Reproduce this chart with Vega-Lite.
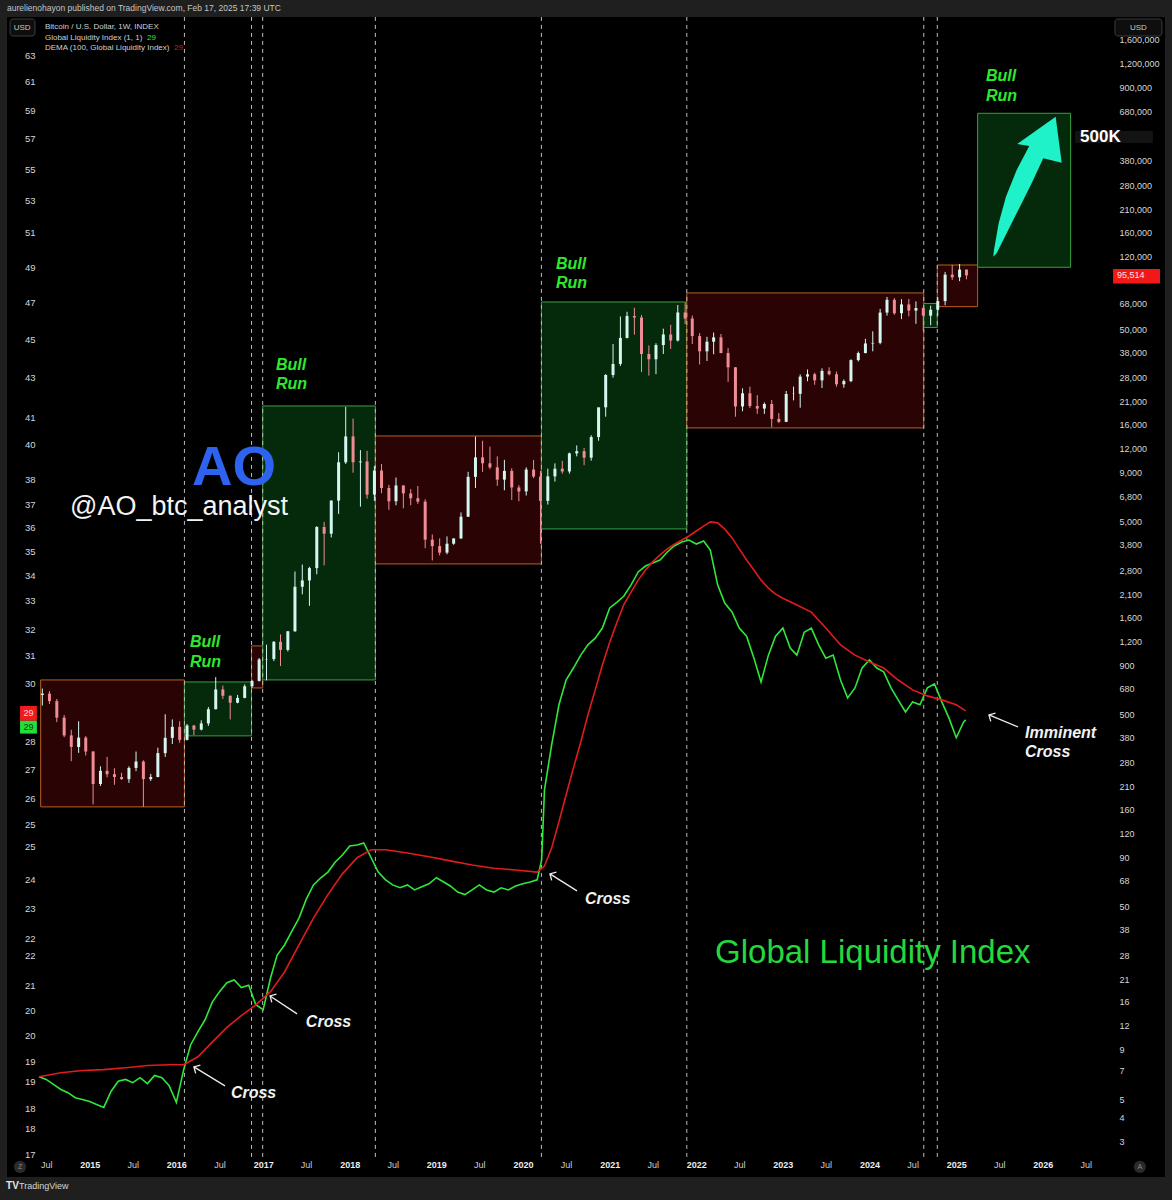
{
"$schema": "https://vega.github.io/schema/vega-lite/v6.json",
"width": 1158,
"height": 1160,
"autosize": {"type": "none"},
"padding": {"left": 7, "top": 17, "right": 7, "bottom": 23},
"background": "#1f1f1f",
"title": {"text": "aurelienohayon published on TradingView.com, Feb 17, 2025 17:39 UTC", "anchor": "start", "frame": "group", "offset": 4, "fontSize": 8.5, "fontWeight": "normal", "color": "#c4c4c4", "font": "Liberation Sans"},
"config": {
  "view": {"fill": "#000000", "stroke": null},
  "font": "Liberation Sans",
  "axis": {"grid": false, "domain": false, "ticks": false, "labelColor": "#d6d6d6", "labelFont": "Liberation Sans", "labelFontSize": 9, "labelOverlap": false, "labelBound": false, "labelFlush": false}
},
"datasets": {
  "candles": [
    {"d":"2014-06-15","o":630,"h":680,"l":555,"c":640},
    {"d":"2014-07-15","o":640,"h":660,"l":565,"c":585},
    {"d":"2014-08-15","o":585,"h":600,"l":455,"c":480},
    {"d":"2014-09-15","o":480,"h":495,"l":380,"c":388},
    {"d":"2014-10-15","o":388,"h":415,"l":285,"c":338},
    {"d":"2014-11-15","o":338,"h":460,"l":315,"c":378},
    {"d":"2014-12-15","o":378,"h":385,"l":305,"c":320},
    {"d":"2015-01-15","o":320,"h":322,"l":170,"c":217},
    {"d":"2015-02-15","o":217,"h":268,"l":212,"c":254},
    {"d":"2015-03-15","o":254,"h":300,"l":235,"c":244},
    {"d":"2015-04-15","o":244,"h":262,"l":215,"c":236},
    {"d":"2015-05-15","o":236,"h":248,"l":228,"c":230},
    {"d":"2015-06-15","o":230,"h":268,"l":220,"c":263},
    {"d":"2015-07-15","o":263,"h":320,"l":253,"c":284},
    {"d":"2015-08-15","o":284,"h":288,"l":165,"c":230},
    {"d":"2015-09-15","o":230,"h":245,"l":225,"c":236},
    {"d":"2015-10-15","o":236,"h":335,"l":235,"c":314},
    {"d":"2015-11-15","o":314,"h":500,"l":300,"c":377},
    {"d":"2015-12-15","o":377,"h":470,"l":350,"c":430},
    {"d":"2016-01-15","o":430,"h":460,"l":355,"c":368},
    {"d":"2016-02-15","o":368,"h":445,"l":365,"c":437},
    {"d":"2016-03-15","o":437,"h":440,"l":390,"c":416},
    {"d":"2016-04-15","o":416,"h":465,"l":412,"c":448},
    {"d":"2016-05-15","o":448,"h":545,"l":435,"c":531},
    {"d":"2016-06-15","o":531,"h":780,"l":530,"c":673},
    {"d":"2016-07-15","o":673,"h":705,"l":600,"c":624},
    {"d":"2016-08-15","o":624,"h":625,"l":470,"c":574},
    {"d":"2016-09-15","o":574,"h":630,"l":570,"c":608},
    {"d":"2016-10-15","o":608,"h":715,"l":605,"c":699},
    {"d":"2016-11-15","o":699,"h":755,"l":685,"c":745},
    {"d":"2016-12-15","o":745,"h":980,"l":740,"c":964},
    {"d":"2017-01-15","o":964,"h":1150,"l":750,"c":968},
    {"d":"2017-02-15","o":968,"h":1200,"l":945,"c":1190},
    {"d":"2017-03-15","o":1190,"h":1300,"l":890,"c":1080},
    {"d":"2017-04-15","o":1080,"h":1350,"l":1060,"c":1350},
    {"d":"2017-05-15","o":1350,"h":2760,"l":1340,"c":2300},
    {"d":"2017-06-15","o":2300,"h":3000,"l":2100,"c":2480},
    {"d":"2017-07-15","o":2480,"h":2920,"l":1830,"c":2875},
    {"d":"2017-08-15","o":2875,"h":4750,"l":2670,"c":4700},
    {"d":"2017-09-15","o":4700,"h":5000,"l":2970,"c":4340},
    {"d":"2017-10-15","o":4340,"h":6470,"l":4150,"c":6450},
    {"d":"2017-11-15","o":6450,"h":11500,"l":5500,"c":10200},
    {"d":"2017-12-15","o":10200,"h":19800,"l":10000,"c":13900},
    {"d":"2018-01-15","o":13900,"h":17200,"l":9000,"c":10200},
    {"d":"2018-02-15","o":10200,"h":11800,"l":6000,"c":10300},
    {"d":"2018-03-15","o":10300,"h":11700,"l":6600,"c":6930},
    {"d":"2018-04-15","o":6930,"h":9750,"l":6430,"c":9240},
    {"d":"2018-05-15","o":9240,"h":9990,"l":7050,"c":7500},
    {"d":"2018-06-15","o":7500,"h":7780,"l":5770,"c":6400},
    {"d":"2018-07-15","o":6400,"h":8500,"l":6100,"c":7730},
    {"d":"2018-08-15","o":7730,"h":7750,"l":5880,"c":7030},
    {"d":"2018-09-15","o":7030,"h":7400,"l":6100,"c":6630},
    {"d":"2018-10-15","o":6630,"h":7680,"l":6200,"c":6370},
    {"d":"2018-11-15","o":6370,"h":6550,"l":3650,"c":4040},
    {"d":"2018-12-15","o":4040,"h":4300,"l":3150,"c":3740},
    {"d":"2019-01-15","o":3740,"h":4100,"l":3350,"c":3460},
    {"d":"2019-02-15","o":3460,"h":4200,"l":3390,"c":3850},
    {"d":"2019-03-15","o":3850,"h":4100,"l":3800,"c":4100},
    {"d":"2019-04-15","o":4100,"h":5600,"l":4080,"c":5320},
    {"d":"2019-05-15","o":5320,"h":9100,"l":5300,"c":8570},
    {"d":"2019-06-15","o":8570,"h":13880,"l":7500,"c":10820},
    {"d":"2019-07-15","o":10820,"h":13200,"l":9100,"c":10080},
    {"d":"2019-08-15","o":10080,"h":12300,"l":9400,"c":9600},
    {"d":"2019-09-15","o":9600,"h":10950,"l":7700,"c":8290},
    {"d":"2019-10-15","o":8290,"h":10500,"l":7300,"c":9200},
    {"d":"2019-11-15","o":9200,"h":9500,"l":6500,"c":7550},
    {"d":"2019-12-15","o":7550,"h":7750,"l":6400,"c":7200},
    {"d":"2020-01-15","o":7200,"h":9600,"l":6850,"c":9350},
    {"d":"2020-02-15","o":9350,"h":10500,"l":8450,"c":8600},
    {"d":"2020-03-15","o":8600,"h":9200,"l":3850,"c":6430},
    {"d":"2020-04-15","o":6430,"h":9450,"l":6150,"c":8620},
    {"d":"2020-05-15","o":8620,"h":10070,"l":8100,"c":9450},
    {"d":"2020-06-15","o":9450,"h":10380,"l":8900,"c":9140},
    {"d":"2020-07-15","o":9140,"h":11450,"l":8900,"c":11350},
    {"d":"2020-08-15","o":11350,"h":12480,"l":10950,"c":11650},
    {"d":"2020-09-15","o":11650,"h":12100,"l":9850,"c":10780},
    {"d":"2020-10-15","o":10780,"h":14100,"l":10400,"c":13800},
    {"d":"2020-11-15","o":13800,"h":19500,"l":13200,"c":19700},
    {"d":"2020-12-15","o":19700,"h":29300,"l":17600,"c":29000},
    {"d":"2021-01-15","o":29000,"h":42000,"l":28100,"c":33100},
    {"d":"2021-02-15","o":33100,"h":58400,"l":32300,"c":45200},
    {"d":"2021-03-15","o":45200,"h":61800,"l":44900,"c":58800},
    {"d":"2021-04-15","o":58800,"h":64900,"l":47000,"c":57700},
    {"d":"2021-05-15","o":57700,"h":59500,"l":30000,"c":37300},
    {"d":"2021-06-15","o":37300,"h":41300,"l":28800,"c":35000},
    {"d":"2021-07-15","o":35000,"h":42400,"l":29300,"c":41500},
    {"d":"2021-08-15","o":41500,"h":50500,"l":37300,"c":47100},
    {"d":"2021-09-15","o":47100,"h":52900,"l":39600,"c":43800},
    {"d":"2021-10-15","o":43800,"h":67000,"l":43300,"c":61300},
    {"d":"2021-11-15","o":61300,"h":69000,"l":53300,"c":57000},
    {"d":"2021-12-15","o":57000,"h":59100,"l":42000,"c":46200},
    {"d":"2022-01-15","o":46200,"h":47900,"l":32900,"c":38500},
    {"d":"2022-02-15","o":38500,"h":45800,"l":34300,"c":43200},
    {"d":"2022-03-15","o":43200,"h":48200,"l":37200,"c":45500},
    {"d":"2022-04-15","o":45500,"h":47400,"l":37700,"c":37700},
    {"d":"2022-05-15","o":37700,"h":40000,"l":26700,"c":31800},
    {"d":"2022-06-15","o":31800,"h":31900,"l":17600,"c":19900},
    {"d":"2022-07-15","o":19900,"h":24700,"l":18800,"c":23300},
    {"d":"2022-08-15","o":23300,"h":25200,"l":19500,"c":20000},
    {"d":"2022-09-15","o":20000,"h":22800,"l":18200,"c":19400},
    {"d":"2022-10-15","o":19400,"h":20900,"l":18200,"c":20500},
    {"d":"2022-11-15","o":20500,"h":21500,"l":15500,"c":17150},
    {"d":"2022-12-15","o":17150,"h":18400,"l":16300,"c":16550},
    {"d":"2023-01-15","o":16550,"h":23950,"l":16500,"c":23100},
    {"d":"2023-02-15","o":23100,"h":25250,"l":21400,"c":23150},
    {"d":"2023-03-15","o":23150,"h":29200,"l":19600,"c":28450},
    {"d":"2023-04-15","o":28450,"h":31000,"l":26900,"c":29250},
    {"d":"2023-05-15","o":29250,"h":29800,"l":25800,"c":27200},
    {"d":"2023-06-15","o":27200,"h":31400,"l":24800,"c":30450},
    {"d":"2023-07-15","o":30450,"h":31800,"l":28900,"c":29250},
    {"d":"2023-08-15","o":29250,"h":30200,"l":25200,"c":25950},
    {"d":"2023-09-15","o":25950,"h":27500,"l":24900,"c":26950},
    {"d":"2023-10-15","o":26950,"h":35000,"l":26600,"c":34650},
    {"d":"2023-11-15","o":34650,"h":38400,"l":34100,"c":37700},
    {"d":"2023-12-15","o":37700,"h":44700,"l":37600,"c":42300},
    {"d":"2024-01-15","o":42300,"h":48900,"l":38500,"c":42600},
    {"d":"2024-02-15","o":42600,"h":64000,"l":41900,"c":61200},
    {"d":"2024-03-15","o":61200,"h":73800,"l":59000,"c":71300},
    {"d":"2024-04-15","o":71300,"h":72800,"l":59600,"c":60700},
    {"d":"2024-05-15","o":60700,"h":71900,"l":56600,"c":67500},
    {"d":"2024-06-15","o":67500,"h":72000,"l":58500,"c":62700},
    {"d":"2024-07-15","o":62700,"h":70000,"l":53500,"c":64600},
    {"d":"2024-08-15","o":64600,"h":65600,"l":49000,"c":59000},
    {"d":"2024-09-15","o":59000,"h":66500,"l":52600,"c":63300},
    {"d":"2024-10-15","o":63300,"h":73600,"l":58900,"c":70200},
    {"d":"2024-11-15","o":70200,"h":99600,"l":66800,"c":96400},
    {"d":"2024-12-15","o":96400,"h":108300,"l":90500,"c":93400},
    {"d":"2025-01-15","o":93400,"h":109600,"l":89200,"c":102400},
    {"d":"2025-02-13","o":102400,"h":102500,"l":91200,"c":95514}
  ],
  "gli": [
    {"d":"2014-06-01","g":18.66},{"d":"2014-07-01","g":18.60},{"d":"2014-08-01","g":18.49},{"d":"2014-09-01","g":18.38},
    {"d":"2014-10-01","g":18.31},{"d":"2014-11-01","g":18.20},{"d":"2014-12-01","g":18.16},{"d":"2015-01-01","g":18.12},
    {"d":"2015-02-01","g":18.05},{"d":"2015-03-01","g":17.99},{"d":"2015-04-01","g":18.34},{"d":"2015-05-01","g":18.56},
    {"d":"2015-06-01","g":18.60},{"d":"2015-07-01","g":18.53},{"d":"2015-08-01","g":18.64},{"d":"2015-09-01","g":18.51},
    {"d":"2015-10-01","g":18.69},{"d":"2015-11-01","g":18.64},{"d":"2015-12-01","g":18.47},{"d":"2016-01-01","g":18.10},
    {"d":"2016-02-01","g":18.82},{"d":"2016-03-01","g":19.38},{"d":"2016-04-01","g":19.69},{"d":"2016-05-01","g":19.97},
    {"d":"2016-06-01","g":20.40},{"d":"2016-07-01","g":20.65},{"d":"2016-08-01","g":20.87},{"d":"2016-09-01","g":20.94},
    {"d":"2016-10-01","g":20.75},{"d":"2016-11-01","g":20.81},{"d":"2016-12-01","g":20.33},{"d":"2017-01-01","g":20.21},
    {"d":"2017-02-01","g":20.99},{"d":"2017-03-01","g":21.57},{"d":"2017-04-01","g":21.83},{"d":"2017-05-01","g":22.18},
    {"d":"2017-06-01","g":22.54},{"d":"2017-07-01","g":23.04},{"d":"2017-08-01","g":23.45},{"d":"2017-09-01","g":23.65},
    {"d":"2017-10-01","g":23.81},{"d":"2017-11-01","g":24.10},{"d":"2017-12-01","g":24.30},{"d":"2018-01-01","g":24.56},
    {"d":"2018-02-01","g":24.59},{"d":"2018-03-01","g":24.65},{"d":"2018-04-01","g":24.22},{"d":"2018-05-01","g":23.81},
    {"d":"2018-06-01","g":23.59},{"d":"2018-07-01","g":23.45},{"d":"2018-08-01","g":23.37},{"d":"2018-09-01","g":23.45},
    {"d":"2018-10-01","g":23.31},{"d":"2018-11-01","g":23.40},{"d":"2018-12-01","g":23.48},{"d":"2019-01-01","g":23.65},
    {"d":"2019-02-01","g":23.53},{"d":"2019-03-01","g":23.42},{"d":"2019-04-01","g":23.25},{"d":"2019-05-01","g":23.18},
    {"d":"2019-06-01","g":23.31},{"d":"2019-07-01","g":23.45},{"d":"2019-08-01","g":23.31},{"d":"2019-09-01","g":23.25},
    {"d":"2019-10-01","g":23.37},{"d":"2019-11-01","g":23.31},{"d":"2019-12-01","g":23.42},{"d":"2020-01-01","g":23.48},
    {"d":"2020-02-01","g":23.53},{"d":"2020-03-01","g":23.59},{"d":"2020-03-20","g":24.16},{"d":"2020-04-01","g":26.26},
    {"d":"2020-05-01","g":27.70},{"d":"2020-06-01","g":29.06},{"d":"2020-07-01","g":29.93},{"d":"2020-08-01","g":30.36},
    {"d":"2020-09-01","g":30.83},{"d":"2020-10-01","g":31.21},{"d":"2020-11-01","g":31.46},{"d":"2020-12-01","g":31.84},
    {"d":"2021-01-01","g":32.61},{"d":"2021-02-01","g":32.84},{"d":"2021-03-01","g":33.07},{"d":"2021-04-01","g":33.52},
    {"d":"2021-05-01","g":34.04},{"d":"2021-06-01","g":34.28},{"d":"2021-07-01","g":34.41},{"d":"2021-08-01","g":34.53},
    {"d":"2021-09-01","g":34.86},{"d":"2021-10-01","g":35.12},{"d":"2021-11-01","g":35.28},{"d":"2021-12-01","g":35.36},
    {"d":"2022-01-01","g":35.19},{"d":"2022-02-01","g":35.32},{"d":"2022-03-01","g":34.94},{"d":"2022-04-01","g":33.52},
    {"d":"2022-05-01","g":32.80},{"d":"2022-06-01","g":32.45},{"d":"2022-07-01","g":31.84},{"d":"2022-08-01","g":31.53},
    {"d":"2022-09-01","g":30.72},{"d":"2022-10-01","g":29.86},{"d":"2022-11-01","g":30.83},{"d":"2022-12-01","g":31.53},
    {"d":"2023-01-01","g":31.84},{"d":"2023-02-01","g":31.09},{"d":"2023-03-01","g":30.83},{"d":"2023-04-01","g":31.68},
    {"d":"2023-05-01","g":31.84},{"d":"2023-06-01","g":31.21},{"d":"2023-07-01","g":30.72},{"d":"2023-08-01","g":30.83},
    {"d":"2023-09-01","g":29.93},{"d":"2023-10-01","g":29.30},{"d":"2023-11-01","g":29.65},{"d":"2023-12-01","g":30.36},
    {"d":"2024-01-01","g":30.65},{"d":"2024-02-01","g":30.36},{"d":"2024-03-01","g":30.22},{"d":"2024-04-01","g":29.65},
    {"d":"2024-05-01","g":29.23},{"d":"2024-06-01","g":28.81},{"d":"2024-07-01","g":29.16},{"d":"2024-08-01","g":29.06},
    {"d":"2024-09-01","g":29.65},{"d":"2024-10-01","g":29.79},{"d":"2024-11-01","g":29.16},{"d":"2024-12-01","g":28.61},
    {"d":"2025-01-01","g":27.94},{"d":"2025-02-01","g":28.47},{"d":"2025-02-10","g":28.54}
  ],
  "dema": [
    {"d":"2014-06-01","v":18.66},{"d":"2014-09-01","v":18.75},{"d":"2014-12-01","v":18.80},{"d":"2015-03-01","v":18.82},
    {"d":"2015-06-01","v":18.86},{"d":"2015-09-01","v":18.91},{"d":"2015-12-01","v":18.93},{"d":"2016-02-01","v":18.93},
    {"d":"2016-04-01","v":19.11},{"d":"2016-06-01","v":19.45},{"d":"2016-08-01","v":19.79},{"d":"2016-10-01","v":20.07},
    {"d":"2016-12-01","v":20.33},{"d":"2017-02-01","v":20.65},{"d":"2017-04-01","v":21.14},{"d":"2017-06-01","v":21.83},
    {"d":"2017-08-01","v":22.54},{"d":"2017-10-01","v":23.18},{"d":"2017-12-01","v":23.76},{"d":"2018-02-01","v":24.22},
    {"d":"2018-04-01","v":24.45},{"d":"2018-06-01","v":24.45},{"d":"2018-09-01","v":24.36},{"d":"2018-12-01","v":24.25},
    {"d":"2019-03-01","v":24.13},{"d":"2019-06-01","v":24.01},{"d":"2019-09-01","v":23.92},{"d":"2019-12-01","v":23.87},
    {"d":"2020-03-01","v":23.81},{"d":"2020-04-01","v":23.98},{"d":"2020-05-01","v":24.50},{"d":"2020-06-01","v":25.28},
    {"d":"2020-07-01","v":26.10},{"d":"2020-08-01","v":26.95},{"d":"2020-09-01","v":27.80},{"d":"2020-10-01","v":28.71},
    {"d":"2020-11-01","v":29.58},{"d":"2020-12-01","v":30.47},{"d":"2021-01-01","v":31.31},{"d":"2021-02-01","v":32.07},
    {"d":"2021-03-01","v":32.73},{"d":"2021-04-01","v":33.23},{"d":"2021-05-01","v":33.71},{"d":"2021-06-01","v":34.12},
    {"d":"2021-07-01","v":34.45},{"d":"2021-08-01","v":34.74},{"d":"2021-09-01","v":34.99},{"d":"2021-10-01","v":35.19},
    {"d":"2021-11-01","v":35.36},{"d":"2021-12-01","v":35.53},{"d":"2022-01-01","v":35.74},{"d":"2022-02-01","v":35.95},
    {"d":"2022-03-01","v":36.13},{"d":"2022-04-01","v":36.09},{"d":"2022-05-01","v":35.82},{"d":"2022-06-01","v":35.45},
    {"d":"2022-07-01","v":34.99},{"d":"2022-08-01","v":34.53},{"d":"2022-09-01","v":34.12},{"d":"2022-10-01","v":33.71},
    {"d":"2022-11-01","v":33.39},{"d":"2022-12-01","v":33.15},{"d":"2023-01-01","v":32.99},{"d":"2023-03-01","v":32.73},
    {"d":"2023-05-01","v":32.45},{"d":"2023-07-01","v":31.84},{"d":"2023-09-01","v":31.21},{"d":"2023-11-01","v":30.83},
    {"d":"2024-01-01","v":30.58},{"d":"2024-03-01","v":30.36},{"d":"2024-05-01","v":29.93},{"d":"2024-07-01","v":29.58},
    {"d":"2024-09-01","v":29.37},{"d":"2024-11-01","v":29.23},{"d":"2025-01-01","v":29.06},{"d":"2025-02-10","v":28.85}
  ],
  "boxes": [
    {"d":"2014-06-08","d2":"2016-02-04","top":754,"bottom":165,"kind":"bear"},
    {"d":"2016-02-04","d2":"2016-11-13","top":736,"bottom":386,"kind":"bull"},
    {"d":"2016-11-13","d2":"2016-12-30","top":1133,"bottom":685,"kind":"bear"},
    {"d":"2016-12-30","d2":"2018-04-19","top":20020,"bottom":754,"kind":"bull"},
    {"d":"2018-04-19","d2":"2020-03-19","top":13980,"bottom":3022,"kind":"bear"},
    {"d":"2020-03-19","d2":"2021-11-22","top":69500,"bottom":4595,"kind":"bull"},
    {"d":"2021-11-22","d2":"2024-08-17","top":77430,"bottom":15390,"kind":"bear"},
    {"d":"2024-08-17","d2":"2024-10-13","top":68270,"bottom":51230,"kind":"bull"},
    {"d":"2024-10-13","d2":"2025-04-01","top":108200,"bottom":65710,"kind":"bear"},
    {"d":"2025-04-01","d2":"2026-04-28","top":665000,"bottom":105300,"kind":"bull"}
  ],
  "vlines": [
    {"d":"2016-02-04"},{"d":"2016-11-13"},{"d":"2016-12-30"},{"d":"2018-04-19"},
    {"d":"2020-03-19"},{"d":"2021-11-22"},{"d":"2024-08-17"},{"d":"2024-10-13"}
  ],
  "arrows": [
    {"d":"2016-03-15","p":7.342,"d2":"2016-07-24","p2":5.852},
    {"d":"2017-01-30","p":17.17,"d2":"2017-05-24","p2":13.85},
    {"d":"2020-04-24","p":73.96,"d2":"2020-08-16","p2":60.35},
    {"d":"2025-05-19","p":496.1,"d2":"2025-09-18","p2":429.7}
  ],
  "bullText": [
    {"d":"2016-02-27","p":1188,"t":"Bull"},{"d":"2016-02-27","p":935,"t":"Run"},
    {"d":"2017-02-24","p":32700,"t":"Bull"},{"d":"2017-02-24","p":26050,"t":"Run"},
    {"d":"2020-05-19","p":109500,"t":"Bull"},{"d":"2020-05-19","p":87260,"t":"Run"},
    {"d":"2025-05-06","p":1039000,"t":"Bull"},{"d":"2025-05-06","p":818000,"t":"Run"}
  ],
  "crossText": [
    {"d":"2016-08-18","p":5.38,"t":"Cross"},
    {"d":"2017-06-30","p":12.58,"t":"Cross"},
    {"d":"2020-09-19","p":54.84,"t":"Cross"},
    {"d":"2025-10-18","p":399.9,"t":"Imminent"},
    {"d":"2025-10-18","p":318.5,"t":"Cross"}
  ],
  "legendText": [
    {"d":"2014-06-26","p":1867000,"t":"Bitcoin / U.S. Dollar, 1W, INDEX"},
    {"d":"2014-06-26","p":1638000,"t":"Global Liquidity Index (1, 1)"},
    {"d":"2014-06-26","p":1453000,"t":"DEMA (100, Global Liquidity Index)"}
  ],
  "legendVal": [
    {"d":"2015-08-30","p":1638000,"t":"29","series":"gli"},
    {"d":"2015-12-22","p":1453000,"t":"29","series":"dema"}
  ],
  "usdBox": [
    {"d":"2014-01-30","d2":"2014-05-15","top":2055000,"bottom":1677000},
    {"d":"2026-11-01","d2":"2027-05-18","top":2055000,"bottom":1677000}
  ],
  "usdText": [
    {"d":"2014-03-22","p":1856000,"t":"USD"},
    {"d":"2027-02-08","p":1856000,"t":"USD"}
  ],
  "tags": [
    {"d":"2014-03-13","d2":"2014-05-23","top":29.02,"bottom":28.51,"series":"dema"},
    {"d":"2014-03-13","d2":"2014-05-23","top":28.51,"bottom":28.08,"series":"gli"}
  ],
  "tagText": [
    {"d":"2014-04-18","v":28.76,"t":"29","series":"dema"},
    {"d":"2014-04-18","v":28.30,"t":"29","series":"gli"}
  ]
},
"encoding": {
  "x": {"field": "d", "type": "temporal",
    "scale": {"type": "utc", "domain": [{"year": 2014, "month": 1, "date": 17, "utc": true}, {"year": 2027, "month": 5, "date": 31, "utc": true}], "padding": 0, "nice": false},
    "axis": {"orient": "bottom", "offset": -17, "labelPadding": 0, "title": null,
      "values": [
        {"year":2014,"month":7,"date":1,"utc":true},{"year":2015,"month":1,"date":1,"utc":true},
        {"year":2015,"month":7,"date":1,"utc":true},{"year":2016,"month":1,"date":1,"utc":true},
        {"year":2016,"month":7,"date":1,"utc":true},{"year":2017,"month":1,"date":1,"utc":true},
        {"year":2017,"month":7,"date":1,"utc":true},{"year":2018,"month":1,"date":1,"utc":true},
        {"year":2018,"month":7,"date":1,"utc":true},{"year":2019,"month":1,"date":1,"utc":true},
        {"year":2019,"month":7,"date":1,"utc":true},{"year":2020,"month":1,"date":1,"utc":true},
        {"year":2020,"month":7,"date":1,"utc":true},{"year":2021,"month":1,"date":1,"utc":true},
        {"year":2021,"month":7,"date":1,"utc":true},{"year":2022,"month":1,"date":1,"utc":true},
        {"year":2022,"month":7,"date":1,"utc":true},{"year":2023,"month":1,"date":1,"utc":true},
        {"year":2023,"month":7,"date":1,"utc":true},{"year":2024,"month":1,"date":1,"utc":true},
        {"year":2024,"month":7,"date":1,"utc":true},{"year":2025,"month":1,"date":1,"utc":true},
        {"year":2025,"month":7,"date":1,"utc":true},{"year":2026,"month":1,"date":1,"utc":true},
        {"year":2026,"month":7,"date":1,"utc":true}
      ],
      "labelExpr": "utcmonth(datum.value) == 0 ? utcFormat(datum.value, '%Y') : 'Jul'",
      "labelFontWeight": {"condition": {"test": "utcmonth(datum.value) == 0", "value": "bold"}, "value": "normal"},
      "labelColor": {"condition": {"test": "utcmonth(datum.value) == 0", "value": "#ececec"}, "value": "#cfcfcf"}
    }
  }
},
"layer": [
  {
    "data": {"name": "boxes"},
    "mark": {"type": "rect", "strokeWidth": 1},
    "encoding": {
      "x2": {"field": "d2"},
      "y": {"field": "top", "type": "quantitative", "scale": {"type": "log", "domain": [1.966, 2105000], "nice": false}, "axis": null},
      "y2": {"field": "bottom"},
      "fill": {"condition": {"test": "datum.kind === 'bull'", "value": "#05290b"}, "value": "#2a0404"},
      "stroke": {"condition": {"test": "datum.kind === 'bull'", "value": "#37a23f"}, "value": "#b8601f"}
    }
  },
  {
    "data": {"name": "vlines"},
    "mark": {"type": "rule", "color": "#bdbdbd", "strokeWidth": 1, "strokeDash": [4, 4]},
    "encoding": {
      "y": {"datum": 2.5, "type": "quantitative", "scale": {"type": "log", "domain": [1.966, 2105000], "nice": false}, "axis": null},
      "y2": {"datum": 2105000}
    }
  },
  {
    "data": {"name": "candles"},
    "mark": {"type": "rule", "strokeWidth": 1},
    "encoding": {
      "y": {"field": "l", "type": "quantitative", "scale": {"type": "log", "domain": [1.966, 2105000], "nice": false},
        "axis": {"orient": "right", "offset": -49, "labelPadding": 3, "labelAlign": "left", "labelBaseline": "middle", "labelExpr": "format(datum.value, ',d')", "title": null,
          "values": [3,4,5,7,9,12,16,21,28,38,50,68,90,120,160,210,280,380,500,680,900,1200,1600,2100,2800,3800,5000,6800,9000,12000,16000,21000,28000,38000,50000,68000,120000,160000,210000,280000,380000,680000,900000,1200000,1600000]}},
      "y2": {"field": "h"},
      "color": {"condition": {"test": "datum.c >= datum.o", "value": "#d4f7f2"}, "value": "#f08c96"}
    }
  },
  {
    "data": {"name": "candles"},
    "mark": {"type": "bar", "size": 3},
    "encoding": {
      "y": {"field": "o", "type": "quantitative", "scale": {"type": "log", "domain": [1.966, 2105000], "nice": false}, "axis": null},
      "y2": {"field": "c"},
      "color": {"condition": {"test": "datum.c >= datum.o", "value": "#d4f7f2"}, "value": "#f08c96"}
    }
  },
  {
    "data": {"values": [{"d": "2025-10-26", "p": 276900}]},
    "mark": {"type": "point", "shape": "M-0.481,1.003L-0.433,0.954L-0.267,0.621L-0.1,0.289L0.067,-0.046L0.233,-0.403L0.496,-0.34L0.41,-0.997L-0.139,-0.607L0.033,-0.579L-0.147,-0.236L-0.3,0.146L-0.404,0.526L-0.471,0.907Z", "size": 19600, "filled": true, "fill": "#1ff2c8", "opacity": 1, "strokeWidth": 0},
    "encoding": {
      "y": {"field": "p", "type": "quantitative", "scale": {"type": "log", "domain": [1.966, 2105000], "nice": false}, "axis": null}
    }
  },
  {
    "data": {"name": "arrows"},
    "mark": {"type": "rule", "color": "#ececec", "strokeWidth": 1.3},
    "encoding": {
      "x2": {"field": "d2"},
      "y": {"field": "p", "type": "quantitative", "scale": {"type": "log", "domain": [1.966, 2105000], "nice": false}, "axis": null},
      "y2": {"field": "p2"}
    }
  },
  {
    "data": {"name": "arrows"},
    "mark": {"type": "point", "shape": "M-1,-1L0,0L-1,1", "size": 90, "filled": false, "stroke": "#ececec", "strokeWidth": 1.3, "angle": 210, "opacity": 1},
    "encoding": {
      "y": {"field": "p", "type": "quantitative", "scale": {"type": "log", "domain": [1.966, 2105000], "nice": false}, "axis": null}
    }
  },
  {
    "data": {"name": "bullText"},
    "mark": {"type": "text", "align": "left", "baseline": "middle", "font": "Liberation Sans", "fontSize": 16, "fontWeight": "bold", "fontStyle": "italic", "color": "#2ee82e"},
    "encoding": {
      "y": {"field": "p", "type": "quantitative", "scale": {"type": "log", "domain": [1.966, 2105000], "nice": false}, "axis": null},
      "text": {"field": "t"}
    }
  },
  {
    "data": {"name": "crossText"},
    "mark": {"type": "text", "align": "left", "baseline": "middle", "font": "Liberation Sans", "fontSize": 16, "fontWeight": "bold", "fontStyle": "italic", "color": "#f2f2f2"},
    "encoding": {
      "y": {"field": "p", "type": "quantitative", "scale": {"type": "log", "domain": [1.966, 2105000], "nice": false}, "axis": null},
      "text": {"field": "t"}
    }
  },
  {
    "data": {"values": [{"d": "2016-08-31", "p": 9532, "t": "AO"}]},
    "mark": {"type": "text", "align": "center", "baseline": "middle", "font": "Liberation Sans", "fontSize": 56, "fontWeight": "bold", "color": "#2e63f0"},
    "encoding": {
      "y": {"field": "p", "type": "quantitative", "scale": {"type": "log", "domain": [1.966, 2105000], "nice": false}, "axis": null},
      "text": {"field": "t"}
    }
  },
  {
    "data": {"values": [{"d": "2014-10-10", "p": 5977, "t": "@AO_btc_analyst"}]},
    "mark": {"type": "text", "align": "left", "baseline": "middle", "font": "Liberation Sans", "fontSize": 27, "color": "#f4f4f4"},
    "encoding": {
      "y": {"field": "p", "type": "quantitative", "scale": {"type": "log", "domain": [1.966, 2105000], "nice": false}, "axis": null},
      "text": {"field": "t"}
    }
  },
  {
    "data": {"values": [{"d": "2022-03-21", "p": 28.73, "t": "Global Liquidity Index"}]},
    "mark": {"type": "text", "align": "left", "baseline": "middle", "font": "Liberation Sans", "fontSize": 33, "color": "#25d83c"},
    "encoding": {
      "y": {"field": "p", "type": "quantitative", "scale": {"type": "log", "domain": [1.966, 2105000], "nice": false}, "axis": null},
      "text": {"field": "t"}
    }
  },
  {
    "data": {"values": [{"d": "2026-05-17", "d2": "2027-04-10", "top": 537900, "bottom": 466000}]},
    "mark": {"type": "rect", "fill": "#131313"},
    "encoding": {
      "x2": {"field": "d2"},
      "y": {"field": "top", "type": "quantitative", "scale": {"type": "log", "domain": [1.966, 2105000], "nice": false}, "axis": null},
      "y2": {"field": "bottom"}
    }
  },
  {
    "data": {"values": [{"d": "2026-06-07", "p": 500600, "t": "500K"}]},
    "mark": {"type": "text", "align": "left", "baseline": "middle", "font": "Liberation Sans", "fontSize": 17, "fontWeight": "bold", "color": "#ffffff"},
    "encoding": {
      "y": {"field": "p", "type": "quantitative", "scale": {"type": "log", "domain": [1.966, 2105000], "nice": false}, "axis": null},
      "text": {"field": "t"}
    }
  },
  {
    "data": {"values": [{"d": "2026-10-24", "d2": "2027-05-10", "top": 103160, "bottom": 86760}]},
    "mark": {"type": "rect", "fill": "#f21818", "cornerRadius": 1},
    "encoding": {
      "x2": {"field": "d2"},
      "y": {"field": "top", "type": "quantitative", "scale": {"type": "log", "domain": [1.966, 2105000], "nice": false}, "axis": null},
      "y2": {"field": "bottom"}
    }
  },
  {
    "data": {"values": [{"d": "2026-11-10", "p": 95514, "t": "95,514"}]},
    "mark": {"type": "text", "align": "left", "baseline": "middle", "font": "Liberation Sans", "fontSize": 9, "color": "#ffe4e4"},
    "encoding": {
      "y": {"field": "p", "type": "quantitative", "scale": {"type": "log", "domain": [1.966, 2105000], "nice": false}, "axis": null},
      "text": {"field": "t"}
    }
  },
  {
    "data": {"name": "usdBox"},
    "mark": {"type": "rect", "fill": "#0e0e0e", "stroke": "#3c3c3c", "strokeWidth": 1, "cornerRadius": 3},
    "encoding": {
      "x2": {"field": "d2"},
      "y": {"field": "top", "type": "quantitative", "scale": {"type": "log", "domain": [1.966, 2105000], "nice": false}, "axis": null},
      "y2": {"field": "bottom"}
    }
  },
  {
    "data": {"name": "usdText"},
    "mark": {"type": "text", "align": "center", "baseline": "middle", "font": "Liberation Sans", "fontSize": 8, "color": "#c8c8c8"},
    "encoding": {
      "y": {"field": "p", "type": "quantitative", "scale": {"type": "log", "domain": [1.966, 2105000], "nice": false}, "axis": null},
      "text": {"field": "t"}
    }
  },
  {
    "data": {"name": "legendText"},
    "mark": {"type": "text", "align": "left", "baseline": "middle", "font": "Liberation Sans", "fontSize": 8, "color": "#d0d0d0"},
    "encoding": {
      "y": {"field": "p", "type": "quantitative", "scale": {"type": "log", "domain": [1.966, 2105000], "nice": false}, "axis": null},
      "text": {"field": "t"}
    }
  },
  {
    "data": {"name": "legendVal"},
    "mark": {"type": "text", "align": "left", "baseline": "middle", "font": "Liberation Sans", "fontSize": 8},
    "encoding": {
      "y": {"field": "p", "type": "quantitative", "scale": {"type": "log", "domain": [1.966, 2105000], "nice": false}, "axis": null},
      "text": {"field": "t"},
      "color": {"condition": {"test": "datum.series === 'gli'", "value": "#2ee82e"}, "value": "#d11a1a"}
    }
  },
  {
    "data": {"values": [{"d": "2014-03-13", "p": 2.22}, {"d": "2027-02-14", "p": 2.22}]},
    "mark": {"type": "point", "shape": "circle", "size": 150, "filled": true, "fill": "#2a2a2a", "opacity": 1},
    "encoding": {
      "y": {"field": "p", "type": "quantitative", "scale": {"type": "log", "domain": [1.966, 2105000], "nice": false}, "axis": null}
    }
  },
  {
    "data": {"values": [{"d": "2014-03-13", "p": 2.22, "t": "Z"}, {"d": "2027-02-14", "p": 2.22, "t": "A"}]},
    "mark": {"type": "text", "align": "center", "baseline": "middle", "font": "Liberation Sans", "fontSize": 7, "color": "#8a8a8a"},
    "encoding": {
      "y": {"field": "p", "type": "quantitative", "scale": {"type": "log", "domain": [1.966, 2105000], "nice": false}, "axis": null},
      "text": {"field": "t"}
    }
  },
  {
    "data": {"values": [{"d": "2014-01-13", "p": 1.768, "t": "TV"}]},
    "mark": {"type": "text", "align": "left", "baseline": "middle", "font": "Liberation Sans", "fontSize": 10, "fontWeight": "bold", "color": "#e6e6e6"},
    "encoding": {
      "y": {"field": "p", "type": "quantitative", "scale": {"type": "log", "domain": [1.966, 2105000], "nice": false}, "axis": null},
      "text": {"field": "t"}
    }
  },
  {
    "data": {"values": [{"d": "2014-03-09", "p": 1.768, "t": "TradingView"}]},
    "mark": {"type": "text", "align": "left", "baseline": "middle", "font": "Liberation Sans", "fontSize": 9, "color": "#d6d6d6"},
    "encoding": {
      "y": {"field": "p", "type": "quantitative", "scale": {"type": "log", "domain": [1.966, 2105000], "nice": false}, "axis": null},
      "text": {"field": "t"}
    }
  },
  {
    "data": {"name": "gli"},
    "mark": {"type": "line", "color": "#2ee83c", "strokeWidth": 1.6},
    "encoding": {
      "y": {"field": "g", "type": "quantitative", "scale": {"type": "log", "domain": [16.56, 65.92], "nice": false},
        "axis": {"orient": "left", "offset": -30, "labelPadding": 2, "labelExpr": "format(datum.value, '.0f')", "title": null, "labelFontSize": 9.5,
          "values": [63,61.01,59.0,57.07,55.0,53.0,50.97,48.9,46.9,44.9,42.9,40.9,39.6,38.0,36.9,35.9,34.9,33.9,32.9,31.8,30.8,29.8,27.8,26.9,26.0,25.2,24.55,23.6,22.8,22.0,21.55,20.8,20.2,19.6,19.0,18.55,17.96,17.55,17.0]}}
    }
  },
  {
    "data": {"name": "dema"},
    "mark": {"type": "line", "color": "#e01c1c", "strokeWidth": 1.6},
    "encoding": {
      "y": {"field": "v", "type": "quantitative", "scale": {"type": "log", "domain": [16.56, 65.92], "nice": false}, "axis": null}
    }
  },
  {
    "data": {"name": "tags"},
    "mark": {"type": "rect"},
    "encoding": {
      "x2": {"field": "d2"},
      "y": {"field": "top", "type": "quantitative", "scale": {"type": "log", "domain": [16.56, 65.92], "nice": false}, "axis": null},
      "y2": {"field": "bottom"},
      "fill": {"condition": {"test": "datum.series === 'gli'", "value": "#22e03a"}, "value": "#f01b1b"}
    }
  },
  {
    "data": {"name": "tagText"},
    "mark": {"type": "text", "align": "center", "baseline": "middle", "font": "Liberation Sans", "fontSize": 9},
    "encoding": {
      "y": {"field": "v", "type": "quantitative", "scale": {"type": "log", "domain": [16.56, 65.92], "nice": false}, "axis": null},
      "text": {"field": "t"},
      "color": {"condition": {"test": "datum.series === 'gli'", "value": "#0b3a10"}, "value": "#ffd6d6"}
    }
  }
],
"resolve": {"scale": {"y": "independent"}}
}
